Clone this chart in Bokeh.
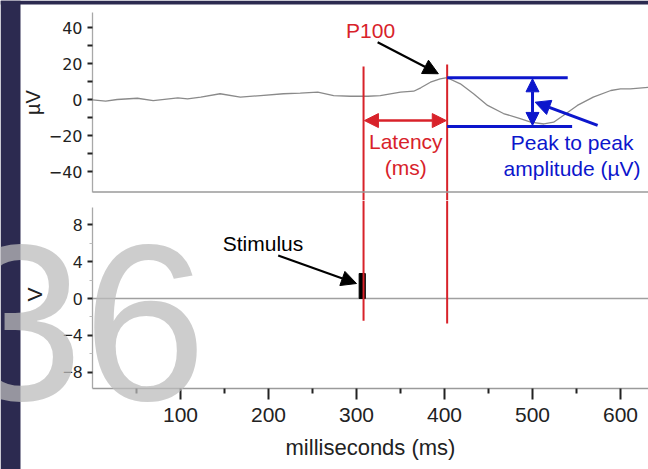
from bokeh.plotting import figure
from bokeh.models import (Range1d, FixedTicker, Span, Arrow, NormalHead, Label,
                          GridBox)
from bokeh.core.properties import value
from bokeh.embed import file_html
from bokeh.resources import INLINE

# ---------------- data ----------------
trace_ms = [0, 15, 28, 51, 69, 97, 108, 123, 145, 168, 191, 217, 236, 256, 274,
            293, 313, 327, 350, 365, 373, 384, 395, 403, 418, 433, 449, 467,
            486, 498, 513, 524, 535, 551, 569, 589, 600, 611, 632]
trace_uv = [-0.2, -0.9, 0.0, 0.7, -0.6, 0.9, 0.4, 1.3, 3.2, 1.3, 2.2, 3.2, 3.5,
            4.1, 2.2, 1.8, 1.8, 2.2, 4.1, 4.6, 6.5, 9.6, 11.5, 12.1, 8.7, 3.2,
            -3.3, -7.8, -10.6, -12.6, -13.6, -12.6, -8.9, -3.3, 1.3, 5.0, 5.9,
            5.9, 6.8]

stim_line_ms = [0, 640]
stim_line_v = [0, 0]

uv_ticks = [-40, -20, 0, 20, 40]
uv_tick_labels = ["−40", "−20", "0", "20", "40"]
uv_minor = [-30, -10, 10, 30]
v_ticks = [-8, -4, 0, 4, 8]
v_tick_labels = ["−8", "−4", "0", "4", "8"]
v_minor = [-6, -2, 2, 6]
ms_ticks = [100, 200, 300, 400, 500, 600]
ms_minor = [50, 150, 250, 350, 450, 550]

stim_onset_ms = 308
p100_latency_ms = 403
p100_peak_uv = 12.1
trough_uv = -15.0
stim_start_ms = 303
stim_end_ms = 310
stim_amp_v = 2.7

# ---------------- styles ----------------
NAVY = "#2c2a50"
RED = "#d8222a"
BLUE = "#0c16cc"
DARK = "#222222"
SANS = "Liberation Sans"

xr = Range1d(0, 631.8)
uv_lo, uv_hi = -56.11, 52.78
v_lo, v_hi = -9.73, 10.595

# ---------------- top panel ----------------
top = figure(width=648, height=200, x_range=xr, y_range=Range1d(uv_lo, uv_hi),
             output_backend="svg", toolbar_location=None, x_axis_location=None,
             min_border_left=92, min_border_right=0, min_border_top=4,
             min_border_bottom=0, background_fill_color="white",
             border_fill_color="white", outline_line_color=None)
top.grid.visible = False
ax = top.yaxis[0]
ax.ticker = FixedTicker(ticks=uv_ticks, minor_ticks=uv_minor)
ax.major_label_overrides = dict(zip(uv_ticks, uv_tick_labels))
ax.bounds = (-51.4, 48.5)
ax.axis_line_color = "#a8a8a8"
ax.axis_line_width = 1.3
ax.major_tick_line_color = DARK
ax.major_tick_line_width = 2
ax.major_tick_out = 5
ax.major_tick_in = 0
ax.minor_tick_line_color = DARK
ax.minor_tick_line_width = 2
ax.minor_tick_out = 5
ax.minor_tick_in = 0
ax.major_label_text_font = "DejaVu Sans"
ax.major_label_text_font_size = "16px"
ax.major_label_text_color = DARK
ax.major_label_standoff = 5
ax.axis_label = "µV"
ax.axis_label_text_font = SANS
ax.axis_label_text_font_size = "20px"
ax.axis_label_text_font_style = "normal"
ax.axis_label_text_color = DARK
ax.axis_label_standoff = 2

top.add_layout(Span(location=-51.4, dimension="width", line_color="#9a9a9a",
                    line_width=1.5))
top.line(trace_ms, trace_uv, line_color="#8a8a8a", line_width=1.3)

top.segment(x0=[stim_onset_ms, p100_latency_ms], y0=[18.3, 19.4],
            x1=[stim_onset_ms, p100_latency_ms], y1=[uv_lo, uv_lo],
            line_color=RED, line_width=2)

top.add_layout(Arrow(start=NormalHead(size=14, fill_color=RED, line_color=RED),
                     end=NormalHead(size=14, fill_color=RED, line_color=RED),
                     x_start=stim_onset_ms + 1, y_start=-11.7,
                     x_end=p100_latency_ms - 1, y_end=-11.7,
                     line_color=RED, line_width=2.5))

top.segment(x0=[p100_latency_ms, p100_latency_ms], y0=[p100_peak_uv, trough_uv],
            x1=[540, 545], y1=[p100_peak_uv, trough_uv],
            line_color=BLUE, line_width=3)
top.add_layout(Arrow(start=NormalHead(size=13, fill_color=BLUE, line_color=BLUE),
                     end=NormalHead(size=13, fill_color=BLUE, line_color=BLUE),
                     x_start=500, y_start=p100_peak_uv - 0.6,
                     x_end=500, y_end=trough_uv + 0.6,
                     line_color=BLUE, line_width=3))
top.add_layout(Arrow(end=NormalHead(size=15, fill_color=BLUE, line_color=BLUE),
                     x_start=574, y_start=-14.4, x_end=503, y_end=-1.5,
                     line_color=BLUE, line_width=3))

top.add_layout(Arrow(end=NormalHead(size=15, fill_color="black", line_color="black"),
                     x_start=324, y_start=31.8, x_end=393, y_end=14.3,
                     line_color="black", line_width=2.2))

def lab(fig, x, y, text, color, size="21px", align="center"):
    fig.add_layout(Label(x=x, y=y, text=text, text_color=color,
                         text_font=SANS, text_font_size=size,
                         text_align=align, text_baseline="middle"))

lab(top, 316, 38.6, "P100", RED)
lab(top, 356, -23.3, "Latency", RED)
lab(top, 356, -37.8, "(ms)", RED)
lab(top, 545, -23.9, "Peak to peak", BLUE)
lab(top, 545, -38.3, "amplitude (µV)", BLUE)

# ---------------- bottom panel ----------------
bot = figure(width=648, height=269, x_range=xr, y_range=Range1d(v_lo, v_hi),
             output_backend="svg", toolbar_location=None,
             min_border_left=92, min_border_right=0, min_border_top=0,
             min_border_bottom=81, background_fill_color="white",
             border_fill_color="white", outline_line_color=None)
bot.grid.visible = False

xa = bot.xaxis[0]
xa.ticker = FixedTicker(ticks=ms_ticks, minor_ticks=ms_minor)
xa.axis_line_color = "#9a9a9a"
xa.axis_line_width = 1.5
xa.major_tick_line_color = DARK
xa.major_tick_line_width = 2
xa.major_tick_out = 11
xa.major_tick_in = 0
xa.minor_tick_line_color = DARK
xa.minor_tick_line_width = 2
xa.minor_tick_out = 5
xa.minor_tick_in = 0
xa.major_label_text_font = SANS
xa.major_label_text_font_size = "21px"
xa.major_label_text_color = DARK
xa.major_label_standoff = 8
xa.axis_label = "milliseconds (ms)"
xa.axis_label_text_font = SANS
xa.axis_label_text_font_size = "22px"
xa.axis_label_text_font_style = "normal"
xa.axis_label_text_color = DARK
xa.axis_label_standoff = 10

ya = bot.yaxis[0]
ya.ticker = FixedTicker(ticks=v_ticks, minor_ticks=v_minor)
ya.major_label_overrides = dict(zip(v_ticks, v_tick_labels))
ya.bounds = (v_lo, 9.84)
ya.axis_line_color = "#a8a8a8"
ya.axis_line_width = 1.3
ya.major_tick_line_color = DARK
ya.major_tick_line_width = 2
ya.major_tick_out = 5
ya.major_tick_in = 0
ya.minor_tick_line_color = "#bbbbbb"
ya.minor_tick_line_width = 1
ya.minor_tick_out = 3
ya.minor_tick_in = 0
ya.major_label_text_font = SANS
ya.major_label_text_font_size = "17px"
ya.major_label_text_color = DARK
ya.major_label_standoff = 5
ya.axis_label = "V"
ya.axis_label_text_font = SANS
ya.axis_label_text_font_size = "21px"
ya.axis_label_text_font_style = "normal"
ya.axis_label_text_color = DARK
ya.axis_label_standoff = 14

bot.line(stim_line_ms, stim_line_v, line_color="#a0a0a0", line_width=1.5)
bot.quad(left=[stim_start_ms], right=[stim_end_ms], bottom=[0], top=[stim_amp_v],
         fill_color="black", line_color="black")
bot.segment(x0=[stim_onset_ms, p100_latency_ms], y0=[v_hi, v_hi],
            x1=[stim_onset_ms, p100_latency_ms], y1=[-2.4, -2.7],
            line_color=RED, line_width=2)

lab(bot, 148, 5.95, "Stimulus", "black", align="left")
bot.add_layout(Arrow(end=NormalHead(size=15, fill_color="black", line_color="black"),
                     x_start=211, y_start=4.65, x_end=300, y_end=1.62,
                     line_color="black", line_width=2.2))

# ---------------- decorative overlay (slide frame + slide number) ----------------
over = figure(width=648, height=469, x_range=Range1d(0, 648), y_range=Range1d(469, 0),
              output_backend="svg", toolbar_location=None,
              x_axis_location=None, y_axis_location=None,
              min_border_left=0, min_border_right=0, min_border_top=0,
              min_border_bottom=0, background_fill_color=None,
              border_fill_color=None, outline_line_color=None)
over.frame_align = False
over.grid.visible = False
over.quad(left=[0, 0], right=[20, 648], top=[0, 0], bottom=[469, 4],
          fill_color=NAVY, line_color=None)
over.text(x=[206], y=[322], text=["36"], text_align="right",
          text_baseline="middle", text_font=value(SANS),
          text_font_size=value("222px"), text_color="#bcbcbc", text_alpha=0.74)

layout = GridBox(children=[(top, 0, 0), (bot, 1, 0), (over, 0, 0, 2, 1)], spacing=0)
open("out.html", "w").write(file_html(layout, INLINE))
